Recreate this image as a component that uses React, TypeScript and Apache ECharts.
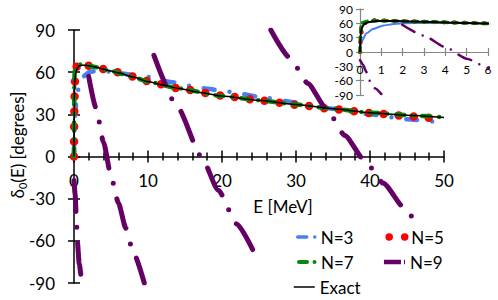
import React, { useEffect, useRef } from "react";
import * as echarts from "echarts";

// ---------- data ----------
const energyExact = [0, 0.03, 0.1, 0.2, 0.4, 0.7, 1, 1.5, 2, 3, 4, 5, 6, 8, 10, 12, 14, 17, 20, 25, 30, 35, 40, 45, 50];
const deltaExact = [0, 39, 52, 59, 62.5, 64.5, 65, 65, 64.5, 63.5, 62, 60.8, 59.5, 56.5, 53.3, 50.8, 48.6, 45.6, 43, 40, 37, 34, 31.2, 29.4, 27.8];

const energyN3 = [0, 0.03, 0.08, 0.3, 0.6, 1.1, 1.5, 2, 3, 5, 8, 10, 13, 17.5, 21, 25, 30, 35, 40, 45, 50];
const deltaN3 = [0, 15, 22, 39, 48, 55.5, 58, 60, 61, 60.5, 58, 56.5, 53, 48.5, 46, 42.5, 38.5, 34, 30, 26.5, 24];

const energyN5 = [0, 0.02, 0.06, 0.15, 0.3, 0.5, 1, 2, 3, 5, 8, 10, 14, 20, 25, 30, 35, 40, 45, 48.5];
const deltaN5 = [0, 20, 40, 56, 63, 66.5, 66, 64.5, 63.5, 61, 56.8, 53.5, 48.6, 43.3, 40, 36.8, 33.8, 31, 28.8, 27.2];

const energyN7 = [0, 0.02, 0.05, 0.1, 0.3, 0.6, 1, 2, 3, 5, 8, 10, 14, 20, 25, 30, 35, 40, 45, 50];
const deltaN7 = [0, 35, 55, 61, 64, 65.5, 65.5, 64.5, 63.5, 60.8, 56.5, 53.3, 48.6, 43, 40, 37, 34, 31.2, 29.4, 27.8];

// N=9 has several branches, separated by null
const energyN9 = [0, 0.15, 0.3, 0.45, 0.7, 1.0, null, 1.98, 3, 4, 5, 6, 7, 8, 9.5, null, 10.8, 14, 17.2, 19.5, 22, 24.5, null, 26.6, 29.2, 31.6, 34.1, 36.6, 39.3, 41.8, 44.7, 47, 50];
const deltaN9 = [-17, -27, -42, -60, -76, -88, null, 57, 34, 10, -14, -33, -51, -68, -90, null, 72, 35, 0, -24, -48, -70, null, 90, 70, 52, 34, 15, -3, -19, -37, -52, -70];

const mainXTicks = { min: 0, max: 50, interval: 10 };
const insetXTicks = { min: 0, max: 6, interval: 1 };
const yTicks = { min: -90, max: 90, interval: 30 };

const seriesNames = ["N=3", "N=5", "N=7", "N=9", "Exact"];

const FONT = "Lato, 'Noto Sans', sans-serif";

function pairs(xs: (number | null)[], ys: (number | null)[]) {
  return xs.map((x, i) => (x === null || ys[i] === null ? ["-", "-"] : [x, ys[i]]));
}

const COLORS: Record<string, string> = {
  "N=3": "#4a7ff0",
  "N=5": "#ff0000",
  "N=7": "#0b870b",
  "N=9": "#650065",
  Exact: "#000000",
};

const DATA: Record<string, any[]> = {
  "N=3": pairs(energyN3, deltaN3),
  "N=5": pairs(energyN5, deltaN5),
  "N=7": pairs(energyN7, deltaN7),
  "N=9": pairs(energyN9, deltaN9),
  Exact: pairs(energyExact, deltaExact),
};

const MAIN_STYLE: Record<string, any> = {
  "N=3": { width: 4.5, type: [11, 15, 0, 15], cap: "round" },
  "N=5": { width: 8.5, type: [0, 15], cap: "round" },
  "N=7": { width: 4.5, type: [8, 9, 0, 9], cap: "round" },
  "N=9": { width: 5, type: [31, 16, 0, 16], cap: "round" },
  Exact: { width: 1.5, type: "solid" },
};

const INSET_STYLE: Record<string, any> = {
  "N=3": { width: 2, type: "solid" },
  "N=5": { width: 4.5, type: [0, 10], cap: "round" },
  "N=7": { width: 3.5, type: [5, 5], cap: "round" },
  "N=9": { width: 2.5, type: [14, 9, 0, 9], cap: "round" },
  Exact: { width: 2, type: "solid" },
};

const LEGEND_STYLE: Record<string, any> = {
  "N=3": { width: 3.5, type: [9, 8, 0, 10], cap: "round", dashOffset: -3 },
  "N=5": { width: 7.5, type: [0, 15.5], cap: "round", dashOffset: -3.7 },
  "N=7": { width: 4, type: [8, 7.5, 0, 10], cap: "round", dashOffset: -4 },
  "N=9": { width: 4.5, type: [17, 3, 2, 10], cap: "butt" },
  Exact: { width: 1.5, type: "solid" },
};

const MAIN_H = 253;
const INSET_H = 86;

export default function App() {
  const ref = useRef<HTMLDivElement>(null);

  useEffect(() => {
    if (!ref.current) return;
    const chart = echarts.init(ref.current, undefined, { renderer: "svg" });

    const axisBlack = { color: "#000", width: 1.5 };
    const axisGray = { color: "#868686", width: 1.2 };

    const mk = (name: string, i: number, xi: number, yi: number, style: any) => ({
      name,
      type: "line",
      xAxisIndex: xi,
      yAxisIndex: yi,
      data: DATA[name],
      symbol: "none",
      showSymbol: false,
      smooth: 0.2,
      smoothMonotone: "x",
      connectNulls: false,
      clip: true,
      z: 2 + i,
      lineStyle: { color: COLORS[name], ...style[name] },
    });

    const mainSeries = seriesNames.map((n, i) => mk(n, i, 0, 0, MAIN_STYLE));
    const insetSeries = seriesNames.map((n, i) => mk(n, i, 2, 2, INSET_STYLE));

    const legendItem = (name: string) => ({
      name,
      itemStyle: { opacity: 0 },
      lineStyle: { color: COLORS[name], ...LEGEND_STYLE[name] },
    });

    const legendBase = {
      left: 290,
      orient: "horizontal",
      itemWidth: 21,
      itemHeight: 8,
      itemGap: 28,
      padding: [2, 3, 3, 3],
      backgroundColor: "#ffffff",
      z: 10,
      selectedMode: false,
      textStyle: { fontFamily: FONT, fontSize: 17, color: "#000", lineHeight: 20 },
    };

    chart.setOption({
      animation: false,
      backgroundColor: "#fff",
      textStyle: { fontFamily: FONT },
      grid: [
        { left: 74, right: 54, top: 30, height: MAIN_H, outerBoundsMode: "none", containLabel: false },
        { left: 360, right: 10, top: 9, height: INSET_H, outerBoundsMode: "none", containLabel: false },
      ],
      xAxis: [
        {
          gridIndex: 0,
          type: "value",
          ...mainXTicks,
          position: "bottom",
          offset: -MAIN_H / 2,
          axisLine: { show: true, onZero: false, lineStyle: axisBlack },
          axisTick: { show: true, inside: false, length: 6, lineStyle: axisBlack },
          minorTick: { show: true, splitNumber: 5, length: 4, lineStyle: axisBlack },
          axisLabel: { fontSize: 17, color: "#000", margin: 15, fontFamily: FONT },
          splitLine: { show: false },
        },
        {
          gridIndex: 0,
          type: "value",
          ...mainXTicks,
          position: "bottom",
          offset: -MAIN_H / 2,
          axisLine: { show: false, onZero: false },
          axisTick: { show: true, inside: true, length: 6, lineStyle: axisBlack },
          minorTick: { show: true, splitNumber: 5, length: 4, lineStyle: axisBlack },
          axisLabel: { show: false },
          splitLine: { show: false },
        },
        {
          gridIndex: 1,
          type: "value",
          ...insetXTicks,
          position: "bottom",
          offset: -INSET_H / 2,
          axisLine: { show: true, onZero: false, lineStyle: axisGray },
          axisTick: { show: true, inside: false, length: 4, lineStyle: axisGray },
          axisLabel: { fontSize: 12, color: "#000", margin: 11, fontFamily: FONT },
          splitLine: { show: false },
        },
        {
          gridIndex: 1,
          type: "value",
          ...insetXTicks,
          position: "bottom",
          offset: -INSET_H / 2,
          axisLine: { show: false, onZero: false },
          axisTick: { show: true, inside: true, length: 4, lineStyle: axisGray },
          axisLabel: { show: false },
          splitLine: { show: false },
        },
      ],
      yAxis: [
        {
          gridIndex: 0,
          type: "value",
          ...yTicks,
          position: "left",
          axisLine: { show: true, onZero: false, lineStyle: axisBlack },
          axisTick: { show: true, inside: false, length: 6, lineStyle: axisBlack },
          axisLabel: { fontSize: 17, color: "#000", margin: 19, fontFamily: FONT },
          splitLine: { show: false },
        },
        {
          gridIndex: 0,
          type: "value",
          ...yTicks,
          position: "left",
          axisLine: { show: false, onZero: false },
          axisTick: { show: true, inside: true, length: 6, lineStyle: axisBlack },
          axisLabel: { show: false },
          splitLine: { show: false },
        },
        {
          gridIndex: 1,
          type: "value",
          ...yTicks,
          position: "left",
          axisLine: { show: true, onZero: false, lineStyle: axisGray },
          axisTick: { show: true, inside: false, length: 4, lineStyle: axisGray },
          axisLabel: { fontSize: 12, color: "#000", margin: 7, fontFamily: FONT },
          splitLine: { show: false },
        },
        {
          gridIndex: 1,
          type: "value",
          ...yTicks,
          position: "left",
          axisLine: { show: false, onZero: false },
          axisTick: { show: true, inside: true, length: 4, lineStyle: axisGray },
          axisLabel: { show: false },
          splitLine: { show: false },
        },
      ],
      legend: [
        { ...legendBase, top: 225, data: [legendItem("N=3"), legendItem("N=5")] },
        { ...legendBase, top: 250, data: [legendItem("N=7"), legendItem("N=9")] },
        { ...legendBase, top: 275, data: [legendItem("Exact")] },
      ],
      graphic: [
        {
          type: "text",
          x: 283,
          y: 206,
          style: {
            text: "E [MeV]",
            fontFamily: FONT,
            fontSize: 17,
            fill: "#000",
            align: "center",
            verticalAlign: "middle",
          },
        },
        {
          type: "text",
          x: 17,
          y: 145,
          rotation: Math.PI / 2,
          style: {
            text: "{a|δ}{s|0}{a|(E) [degrees]}",
            align: "center",
            verticalAlign: "middle",
            fill: "#000",
            rich: {
              a: { fontFamily: FONT, fontSize: 17, lineHeight: 22, fill: "#000" },
              s: { fontFamily: FONT, fontSize: 11, lineHeight: 12, verticalAlign: "bottom", fill: "#000" },
            },
          },
        },
      ],
      series: [...mainSeries, ...insetSeries],
    });

    return () => chart.dispose();
  }, []);

  return (
    <div
      ref={ref}
      style={{ position: "fixed", left: 0, top: 0, width: 498, height: 300, background: "#fff" }}
    />
  );
}
